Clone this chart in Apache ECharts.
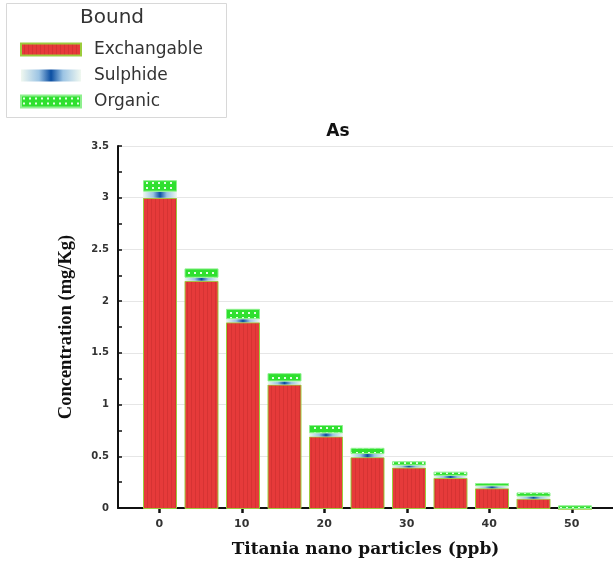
<!DOCTYPE html>
<html>
<head>
<meta charset="utf-8">
<script src="https://cdn.jsdelivr.net/npm/echarts@6/dist/echarts.min.js"></script>
<style>
  html, body { margin: 0; padding: 0; background: #fff; }
  #main { width: 613px; height: 563px; }
</style>
</head>
<body>
<div id="main"></div>
<script>
// Titania dose (ppb), one bar per dose
const doses = ["0", "5", "10", "15", "20", "25", "30", "35", "40", "45", "50"];
const tickLabels = [0, 10, 20, 30, 40, 50];

// stacked fractions, mg/Kg
const exchangable = [3.0, 2.2, 1.8, 1.2, 0.7, 0.5, 0.4, 0.3, 0.2, 0.1, 0];
const sulphide = [0.06, 0.03, 0.03, 0.03, 0.03, 0.03, 0.02, 0.02, 0.02, 0.02, 0];
const organic = [0.11, 0.09, 0.1, 0.08, 0.08, 0.06, 0.04, 0.04, 0.03, 0.04, 0.035];

function makePattern(w, h, draw) {
  const c = document.createElement("canvas");
  c.width = w;
  c.height = h;
  draw(c.getContext("2d"));
  return { image: c, repeat: "repeat" };
}

// red with faint vertical stripes
const redFill = makePattern(4, 4, (ctx) => {
  ctx.fillStyle = "#e63a3a";
  ctx.fillRect(0, 0, 4, 4);
  ctx.fillStyle = "#d63333";
  ctx.fillRect(3, 0, 1, 4);
});

// green with white dots
const greenFill = makePattern(6, 5, (ctx) => {
  ctx.fillStyle = "#2fe02f";
  ctx.fillRect(0, 0, 6, 5);
  ctx.fillStyle = "#e4ffe4";
  ctx.fillRect(2, 2, 2, 2);
});

const blueFill = {
  type: "linear",
  x: 0,
  y: 0,
  x2: 1,
  y2: 0,
  colorStops: [
    { offset: 0, color: "#f0f8f0" },
    { offset: 0.3, color: "#9cc4e4" },
    { offset: 0.5, color: "#0b4ea2" },
    { offset: 0.7, color: "#9cc4e4" },
    { offset: 1, color: "#f0f8f0" },
  ],
};

const chart = echarts.init(document.getElementById("main"));

const tickFont = {
  fontFamily: "DejaVu Sans",
  fontSize: 10,
  fontWeight: "bold",
  color: "#333",
};

const plotTop = 146;
const plotBottom = 54;

chart.setOption({
  animation: false,
  title: {
    text: "As",
    left: 333,
    top: 118,
    textAlign: "center",
    textStyle: { fontFamily: "DejaVu Sans", fontSize: 17, fontWeight: "bold", color: "#111" },
  },
  graphic: [
    {
      type: "rect",
      left: 6,
      top: 3,
      shape: { width: 220, height: 114 },
      style: { fill: "#fff", stroke: "#d8d8d8", lineWidth: 1 },
      z: 0,
    },
    {
      type: "text",
      left: 80,
      top: 8,
      style: { text: "Bound", fontFamily: "DejaVu Sans", fontSize: 20, fill: "#333" },
      z: 1,
    },
  ],
  legend: {
    orient: "vertical",
    left: 15,
    top: 36,
    icon: "rect",
    itemWidth: 60,
    itemHeight: 12,
    itemGap: 9,
    textStyle: { fontFamily: "DejaVu Sans", fontSize: 17, color: "#333", padding: [0, 0, 0, 8] },
    z: 3,
  },
  grid: [
    // axes frame, x from -5 to 55
    { left: 118, right: -4, top: plotTop, bottom: plotBottom },
    // bars, one band per dose
    { left: 139.25, right: 17.25, top: plotTop, bottom: plotBottom },
  ],
  xAxis: [
    {
      type: "value",
      gridIndex: 0,
      min: -5,
      max: 55,
      name: "Titania nano particles (ppb)",
      nameLocation: "middle",
      nameGap: 33,
      nameTextStyle: { fontFamily: "DejaVu Serif", fontSize: 17, fontWeight: "bold", color: "#111" },
      axisLine: { show: true, onZero: false, lineStyle: { color: "#111", width: 2 } },
      axisTick: { show: true, customValues: tickLabels, length: 5, lineStyle: { color: "#111", width: 2.5 } },
      axisLabel: { customValues: tickLabels, margin: 11, ...tickFont, fontSize: 11 },
      splitLine: { show: false },
    },
    {
      type: "category",
      gridIndex: 1,
      data: doses,
      show: false,
    },
  ],
  yAxis: [
    {
      type: "value",
      gridIndex: 0,
      min: 0,
      max: 3.5,
      interval: 0.5,
      name: "Concentration (mg/Kg)",
      nameLocation: "middle",
      nameGap: 42,
      nameTextStyle: { fontFamily: "Liberation Serif", fontSize: 18.5, fontWeight: "bold", color: "#111" },
      axisLine: { show: true, onZero: false, lineStyle: { color: "#111", width: 2 } },
      axisTick: { show: true, inside: true, length: 4, lineStyle: { color: "#111", width: 1.5 } },
      minorTick: { show: true, splitNumber: 2, length: 4, lineStyle: { color: "#111", width: 1.5 } },
      axisLabel: { margin: 9, ...tickFont },
      splitLine: { show: true, lineStyle: { color: "#e6e6e6", width: 1 } },
    },
    {
      type: "value",
      gridIndex: 1,
      min: 0,
      max: 3.5,
      show: false,
      splitLine: { show: false },
    },
  ],
  series: [
    {
      name: "Exchangable",
      type: "bar",
      stack: "as",
      xAxisIndex: 1,
      yAxisIndex: 1,
      barWidth: 34,
      data: exchangable,
      itemStyle: { color: redFill, borderColor: "#9ccc3c", borderWidth: 1 },
    },
    {
      name: "Sulphide",
      type: "bar",
      stack: "as",
      xAxisIndex: 1,
      yAxisIndex: 1,
      barWidth: 34,
      data: sulphide,
      itemStyle: { color: blueFill },
    },
    {
      name: "Organic",
      type: "bar",
      stack: "as",
      xAxisIndex: 1,
      yAxisIndex: 1,
      barWidth: 34,
      data: organic,
      itemStyle: { color: greenFill, borderColor: "#8ef08e", borderWidth: 1 },
    },
  ],
});
</script>
</body>
</html>
